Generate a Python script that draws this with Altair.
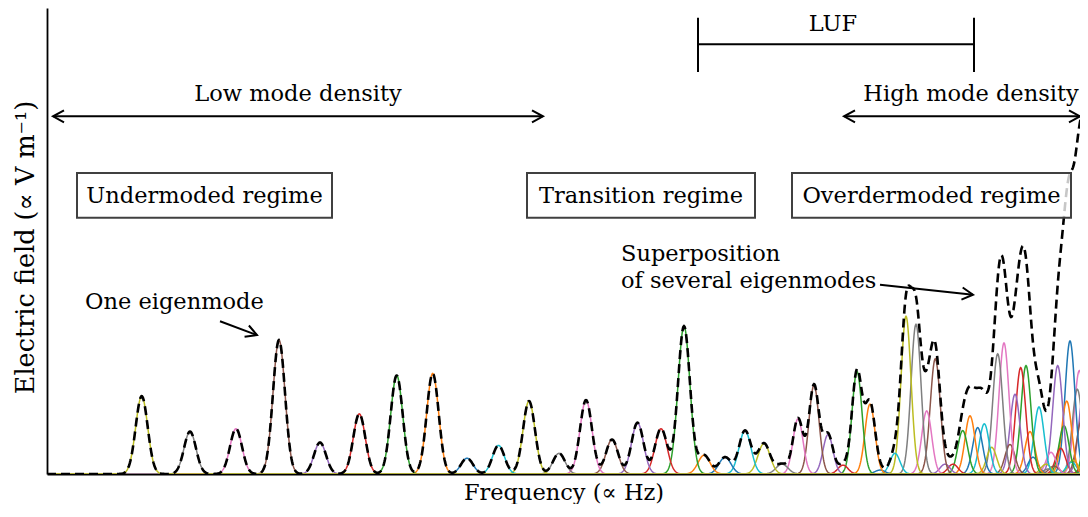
import altair as alt
import numpy as np
import pandas as pd

# ---------------- data ----------------
# eigenmode resonance frequencies (arbitrary units, visible axis spans 0..1033)
mode_freq = [94.7, 143, 189, 232, 273, 312.3, 349.7, 385.7, 420, 451.5,
             482, 512, 539, 565, 590.5, 614, 637, 657, 678, 698,
             717, 735, 751, 767, 781, 796, 810, 823, 833, 848,
             859, 869, 879.7, 888.3, 898, 906, 915.7, 923, 930.7, 937.3,
             944.7, 950.7, 957, 963, 968, 973.7, 979, 983, 986, 992,
             999, 1001, 1004, 1007, 1010.7, 1013.7, 1017, 1019.7, 1023, 1024.5,
             1026, 1030.3, 1032.3, 1034.7, 1037, 1040, 1042, 1044, 1046, 1048]
# peak field amplitude of each eigenmode (arbitrary units, axis spans 0..473)
mode_amp = [79, 43, 46, 136, 32, 61, 100, 102, 16, 29,
            74, 21, 75, 35, 52, 46, 150, 19, 17, 44,
            31, 10, 56, 90, 40, 9, 104, 71, 4, 21,
            160, 152, 64, 117, 10, 10, 44, 59, 47, 51,
            27, 122, 133, 30, 81, 108, 110, 43, 17, 68,
            10, 5, 22, 8, 110, 26, 49, 74, 135, 12,
            14, 86, 105, 55, 86, 17, 60, 130, 150, 80]
# bandwidth (std. dev.) of each eigenmode
mode_width = [6, 6, 6, 6, 6, 6, 6, 6, 6, 6,
              6, 6, 6, 6, 6, 6, 6, 6, 6, 6,
              6, 6, 5, 5, 5, 5, 5, 5, 5, 5,
              5, 5, 5, 5, 5, 5, 5, 5, 5, 5,
              5, 5, 5, 5, 5, 5, 5, 5, 5, 5,
              5, 5, 5, 5, 5, 5, 5, 5, 5, 5,
              5, 5, 5, 5, 5, 5, 5, 5, 5, 5]

palette = ["#1f77b4", "#ff7f0e", "#2ca02c", "#d62728", "#9467bd",
           "#8c564b", "#e377c2", "#7f7f7f", "#bcbd22", "#17becf"]

X_MAX = 1033
Y_MAX = 473
X_END = 1060  # curves are computed a little past the visible edge

# ---------------- curves ----------------
mode_rows = []
n = len(mode_freq)
for i in reversed(range(n)):
    c, a, w = mode_freq[i], mode_amp[i], mode_width[i]
    xs = np.arange(c - 32, c + 32.01, 0.5)
    xs = xs[(xs >= 0)]
    if xs[0] > 0:
        xs = np.concatenate([[0.0], xs])
    if xs[-1] < X_END:
        xs = np.concatenate([xs, [float(X_END)]])
    ys = a * np.exp(-((xs - c) ** 2) / (2 * w * w))
    col = palette[(8 - i) % 10]
    for xv, yv in zip(xs, ys):
        mode_rows.append({"x": round(float(xv), 2), "y": round(float(yv), 3),
                          "mode": f"m{n - i:03d}", "color": col})
modes_df = pd.DataFrame(mode_rows)

sx = np.arange(0, X_END + 0.01, 0.5)
total = np.zeros_like(sx)
for c, a, w in zip(mode_freq, mode_amp, mode_width):
    total += a * np.exp(-((sx - c) ** 2) / (2 * w * w))
sum_df = pd.DataFrame({"x": np.round(sx, 2), "y": np.round(total, 3)})

# ---------------- annotations ----------------
box_df = pd.DataFrame({
    "x": [30, 480, 745], "x2": [285, 708, 1024],
    "y": [305.5, 305.5, 305.5], "y2": [260, 260, 260],
})
center_text_df = pd.DataFrame({
    "x": [157.5, 594, 884.5, 786, 251, 924],
    "y": [282, 282, 282, 457, 386, 386],
    "label": ["Undermoded regime", "Transition regime", "Overdermoded regime",
              "LUF", "Low mode density", "High mode density"],
})
left_text_df = pd.DataFrame({
    "x": [38, 574, 574],
    "y": [175, 223, 196],
    "label": ["One eigenmode", "Superposition", "of several eigenmodes"],
})
seg_df = pd.DataFrame({
    "x":  [6, 797, 651, 651, 927, 173, 833],
    "x2": [496, 1033, 927, 651, 927, 210, 926],
    "y":  [363, 363, 436.3, 463, 463, 155, 192],
    "y2": [363, 363, 436.3, 408, 408, 141, 182],
})
head_df = pd.DataFrame({
    "x": [6, 496, 797, 1033, 210, 926],
    "y": [363, 363, 363, 363, 141, 182],
    "angle": [180, 0, 180, 0, 21, 6],
})

FONT = "DejaVu Serif"
xsc = alt.Scale(domain=[0, X_MAX], nice=False, zero=False)
ysc = alt.Scale(domain=[0, Y_MAX], nice=False, zero=False)
x_axis = alt.Axis(title="Frequency (∝ Hz)", ticks=False, labels=False, grid=False,
                  domainColor="black", domainWidth=1.8, titleFont=FONT,
                  titleFontSize=22.5, titleFontWeight="normal", titleColor="black",
                  titlePadding=7)
y_axis = alt.Axis(title="Electric field (∝ V m⁻¹)", ticks=False, labels=False, grid=False,
                  domainColor="black", domainWidth=1.8, titleFont=FONT,
                  titleFontSize=25.5, titleFontWeight="normal", titleColor="black",
                  titlePadding=9, titleY=239)

X = alt.X("x:Q", scale=xsc, axis=x_axis)
Y = alt.Y("y:Q", scale=ysc, axis=y_axis)

modes = alt.Chart(modes_df).mark_line(strokeWidth=1.5, clip=True).encode(
    x=X, y=Y, color=alt.Color("color:N", scale=None), detail="mode:N")

dashed = alt.Chart(sum_df).mark_line(color="black", strokeWidth=2.6,
                                     strokeDash=[9, 5], clip=True).encode(x=X, y=Y)

boxes = alt.Chart(box_df).mark_rect(fill="white", fillOpacity=0.78, stroke="#404040",
                                    strokeWidth=2).encode(
    x=X, x2="x2:Q", y=Y, y2="y2:Q")

ctext = alt.Chart(center_text_df).mark_text(font=FONT, fontSize=22.5, color="black",
                                            align="center", baseline="middle").encode(
    x=X, y=Y, text="label:N")
ltext = alt.Chart(left_text_df).mark_text(font=FONT, fontSize=22.5, color="black",
                                          align="left", baseline="middle").encode(
    x=X, y=Y, text="label:N")

segs = alt.Chart(seg_df).mark_rule(color="black", strokeWidth=2).encode(
    x=X, x2="x2:Q", y=Y, y2="y2:Q")

heads = alt.Chart(head_df).mark_point(shape="M -1 -0.55 L 0 0 L -1 0.55", filled=False,
                                      size=484, stroke="black", strokeWidth=2,
                                      opacity=1).encode(
    x=X, y=Y, angle=alt.Angle("angle:Q", scale=None))

chart = alt.layer(modes, dashed, boxes, ctext, ltext, segs, heads).properties(
    width=1033, height=466,
    autosize=alt.AutoSizeParams(type="none"),
    padding={"left": 39, "top": 0, "right": 0, "bottom": 30},
    background="white",
).configure_view(strokeWidth=0)

chart.save("out.html", embed_options={"renderer": "svg", "actions": False})
